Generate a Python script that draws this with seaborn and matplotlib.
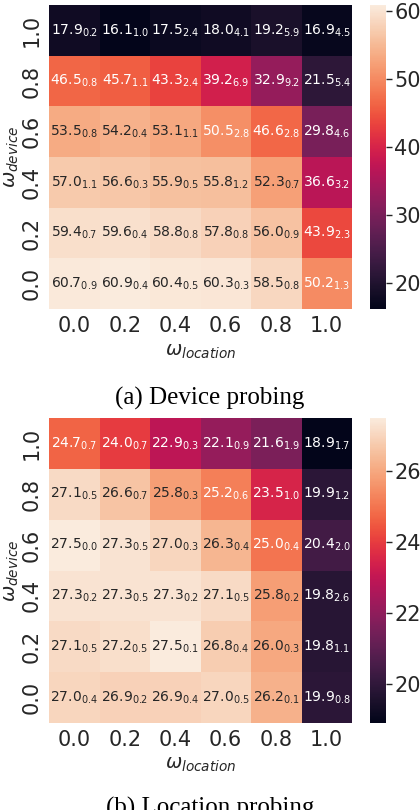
import numpy as np
import pandas as pd
import matplotlib
matplotlib.use("Agg")
import matplotlib.pyplot as plt
import seaborn as sns

# ---- data ----
loc_weights = ["0.0", "0.2", "0.4", "0.6", "0.8", "1.0"]
dev_weights = ["1.0", "0.8", "0.6", "0.4", "0.2", "0.0"]  # top to bottom

device_mean = [
    [17.9, 16.1, 17.5, 18.0, 19.2, 16.9],
    [46.5, 45.7, 43.3, 39.2, 32.9, 21.5],
    [53.5, 54.2, 53.1, 50.5, 46.6, 29.8],
    [57.0, 56.6, 55.9, 55.8, 52.3, 36.6],
    [59.4, 59.6, 58.8, 57.8, 56.0, 43.9],
    [60.7, 60.9, 60.4, 60.3, 58.5, 50.2],
]
device_std = [
    [0.2, 1.0, 2.4, 4.1, 5.9, 4.5],
    [0.8, 1.1, 2.4, 6.9, 9.2, 5.4],
    [0.8, 0.4, 1.1, 2.8, 2.8, 4.6],
    [1.1, 0.3, 0.5, 1.2, 0.7, 3.2],
    [0.7, 0.4, 0.8, 0.8, 0.9, 2.3],
    [0.9, 0.4, 0.5, 0.3, 0.8, 1.3],
]
location_mean = [
    [24.7, 24.0, 22.9, 22.1, 21.6, 18.9],
    [27.1, 26.6, 25.8, 25.2, 23.5, 19.9],
    [27.5, 27.3, 27.0, 26.3, 25.0, 20.4],
    [27.3, 27.3, 27.3, 27.1, 25.8, 19.8],
    [27.1, 27.2, 27.5, 26.8, 26.0, 19.8],
    [27.0, 26.9, 26.9, 27.0, 26.2, 19.9],
]
location_std = [
    [0.7, 0.7, 0.3, 0.9, 1.9, 1.7],
    [0.5, 0.7, 0.3, 0.6, 1.0, 1.2],
    [0.0, 0.5, 0.3, 0.4, 0.4, 2.0],
    [0.2, 0.5, 0.2, 0.5, 0.2, 2.6],
    [0.5, 0.5, 0.1, 0.4, 0.3, 1.1],
    [0.4, 0.2, 0.4, 0.5, 0.1, 0.8],
]
captions = ["(a) Device probing", "(b) Location probing"]

plt.rcParams["font.family"] = ["DejaVu Sans"]
plt.rcParams["text.color"] = ".15"
plt.rcParams["axes.labelcolor"] = ".15"
plt.rcParams["xtick.color"] = ".15"
plt.rcParams["ytick.color"] = ".15"

fig = plt.figure(figsize=(4.2, 8.1), dpi=100)
W, H = 420, 810

def box(l, t, r, b):
    return [l / W, (H - b) / H, (r - l) / W, (b - t) / H]

panels = [
    (device_mean, device_std, (49, 5, 352, 309), 398),
    (location_mean, location_std, (49, 418, 352, 723), 808),
]

for i, (mean, std, (l, t, r, b), cap_y) in enumerate(panels):
    ax = fig.add_axes(box(l, t, r, b))
    cax = fig.add_axes(box(370, t, 386, b))
    df = pd.DataFrame(mean, index=dev_weights, columns=loc_weights)
    ann = np.array([[f"{m:.1f}$_{{{s:.1f}}}$" for m, s in zip(mr, sr)]
                    for mr, sr in zip(mean, std)])
    sns.heatmap(df, ax=ax, cbar_ax=cax, cmap="rocket", annot=ann, fmt="",
                annot_kws={"fontsize": 10})
    ax.tick_params(axis="both", length=0, labelsize=15, pad=5)
    ax.set_yticklabels(dev_weights, rotation=90, va="center")
    ax.set_xticklabels(loc_weights, rotation=0)
    ax.set_xlabel(r"$\omega_{location}$", fontsize=14, labelpad=4)
    ax.set_ylabel(r"$\omega_{device}$", fontsize=14, labelpad=1)
    cax.tick_params(labelsize=15, length=4, width=1, pad=2)
    fig.text(0.5, (H - cap_y) / H, captions[i], ha="center", va="center",
             family="Liberation Serif", fontsize=18, color="black")

fig.savefig("out.png", dpi=100)
